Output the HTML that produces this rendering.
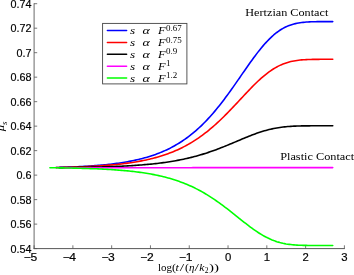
<!DOCTYPE html>
<html><head><meta charset="utf-8"><style>
html,body{margin:0;padding:0;background:#fff;}
body{width:354px;height:275px;position:relative;overflow:hidden;}
text{fill:#000;}
.t{font-family:"Liberation Sans",sans-serif;font-size:10.8px;stroke:#000;stroke-width:0.18px;}
.r{font-family:"Liberation Serif",serif;font-size:11.2px;}
.m{font-family:"Liberation Serif",serif;font-size:10.5px;font-style:italic;}
.sp{font-family:"Liberation Serif",serif;font-size:7.5px;}
.x{font-family:"Liberation Serif",serif;font-size:11px;}
.xi{font-family:"Liberation Serif",serif;font-size:11px;font-style:italic;}
.xs{font-family:"Liberation Serif",serif;font-size:8px;}
.xsi{font-family:"Liberation Serif",serif;font-size:8px;font-style:italic;}
</style></head><body>
<svg width="354" height="275" viewBox="0 0 354 275" style="position:absolute;left:0;top:0">
<g stroke="#444" stroke-width="0.9" fill="none">
<line x1="34.10" y1="3.30" x2="34.10" y2="249.05" stroke-width="0.8"/>
<line x1="33.65" y1="248.60" x2="344.85" y2="248.60"/>
</g><g stroke="#555" stroke-width="0.8" fill="none">
<line x1="34.10" y1="248.60" x2="37.20" y2="248.60"/>
<line x1="34.10" y1="224.11" x2="37.20" y2="224.11"/>
<line x1="34.10" y1="199.62" x2="37.20" y2="199.62"/>
<line x1="34.10" y1="175.13" x2="37.20" y2="175.13"/>
<line x1="34.10" y1="150.64" x2="37.20" y2="150.64"/>
<line x1="34.10" y1="126.15" x2="37.20" y2="126.15"/>
<line x1="34.10" y1="101.66" x2="37.20" y2="101.66"/>
<line x1="34.10" y1="77.17" x2="37.20" y2="77.17"/>
<line x1="34.10" y1="52.68" x2="37.20" y2="52.68"/>
<line x1="34.10" y1="28.19" x2="37.20" y2="28.19"/>
<line x1="34.10" y1="3.70" x2="37.20" y2="3.70"/>
<line x1="34.10" y1="248.60" x2="34.10" y2="245.30"/>
<line x1="72.89" y1="248.60" x2="72.89" y2="245.30"/>
<line x1="111.67" y1="248.60" x2="111.67" y2="245.30"/>
<line x1="150.46" y1="248.60" x2="150.46" y2="245.30"/>
<line x1="189.25" y1="248.60" x2="189.25" y2="245.30"/>
<line x1="228.04" y1="248.60" x2="228.04" y2="245.30"/>
<line x1="266.82" y1="248.60" x2="266.82" y2="245.30"/>
<line x1="305.61" y1="248.60" x2="305.61" y2="245.30"/>
<line x1="344.40" y1="248.60" x2="344.40" y2="245.30"/>
</g>
<polyline points="56.13,167.54 57.69,167.50 59.24,167.45 60.80,167.40 62.35,167.35 63.90,167.30 65.46,167.25 67.01,167.19 68.57,167.13 70.12,167.07 71.67,167.01 73.23,166.94 74.78,166.87 76.34,166.80 77.89,166.73 79.44,166.65 81.00,166.57 82.55,166.48 84.11,166.39 85.66,166.30 87.21,166.21 88.77,166.11 90.32,166.00 91.88,165.89 93.43,165.78 94.98,165.66 96.54,165.54 98.09,165.41 99.65,165.28 101.20,165.14 102.75,165.00 104.31,164.85 105.86,164.69 107.42,164.53 108.97,164.36 110.52,164.18 112.08,164.00 113.63,163.81 115.19,163.61 116.74,163.40 118.29,163.18 119.85,162.96 121.40,162.73 122.96,162.48 124.51,162.23 126.06,161.97 127.62,161.69 129.17,161.41 130.73,161.11 132.28,160.80 133.83,160.48 135.39,160.15 136.94,159.80 138.50,159.44 140.05,159.06 141.60,158.67 143.16,158.27 144.71,157.84 146.27,157.41 147.82,156.95 149.37,156.48 150.93,155.99 152.48,155.48 154.04,154.95 155.59,154.40 157.14,153.83 158.70,153.23 160.25,152.62 161.81,151.98 163.36,151.32 164.91,150.63 166.47,149.92 168.02,149.18 169.58,148.42 171.13,147.62 172.68,146.80 174.24,145.95 175.79,145.07 177.35,144.16 178.90,143.22 180.45,142.25 182.01,141.24 183.56,140.20 185.12,139.12 186.67,138.01 188.22,136.86 189.78,135.68 191.33,134.46 192.89,133.20 194.44,131.90 195.99,130.56 197.55,129.19 199.10,127.77 200.66,126.31 202.21,124.82 203.76,123.28 205.32,121.70 206.87,120.08 208.43,118.42 209.98,116.72 211.53,114.97 213.09,113.19 214.64,111.37 216.20,109.51 217.75,107.61 219.30,105.68 220.86,103.71 222.41,101.70 223.97,99.66 225.52,97.59 227.07,95.49 228.63,93.36 230.18,91.21 231.74,89.04 233.29,86.84 234.84,84.63 236.40,82.40 237.95,80.16 239.51,77.92 241.06,75.67 242.61,73.42 244.17,71.18 245.72,68.94 247.28,66.72 248.83,64.51 250.38,62.32 251.94,60.16 253.49,58.03 255.05,55.94 256.60,53.88 258.15,51.87 259.71,49.90 261.26,47.99 262.82,46.13 264.37,44.34 265.92,42.60 267.48,40.94 269.03,39.34 270.59,37.82 272.14,36.37 273.69,34.99 275.25,33.70 276.80,32.48 278.36,31.34 279.91,30.28 281.46,29.30 283.02,28.39 284.57,27.56 286.13,26.80 287.68,26.11 289.23,25.49 290.79,24.94 292.34,24.44 293.90,24.00 295.45,23.62 297.00,23.28 298.56,22.99 300.11,22.74 301.67,22.53 303.22,22.35 304.77,22.20 306.33,22.07 307.88,21.97 309.44,21.89 310.99,21.82 312.54,21.77 314.10,21.73 315.65,21.69 317.21,21.67 318.76,21.65 320.31,21.63 321.87,21.62 323.42,21.62 324.98,21.61 326.53,21.61 328.08,21.61 329.64,21.60 331.19,21.60 332.75,21.60" fill="none" stroke="#0000ff" stroke-width="1.6" stroke-linejoin="round" stroke-linecap="round"/>
<polyline points="56.13,167.58 57.69,167.55 59.24,167.51 60.80,167.48 62.35,167.44 63.90,167.40 65.46,167.36 67.01,167.32 68.57,167.27 70.12,167.23 71.67,167.18 73.23,167.13 74.78,167.07 76.34,167.02 77.89,166.96 79.44,166.90 81.00,166.84 82.55,166.78 84.11,166.71 85.66,166.64 87.21,166.57 88.77,166.49 90.32,166.41 91.88,166.33 93.43,166.25 94.98,166.16 96.54,166.06 98.09,165.97 99.65,165.87 101.20,165.76 102.75,165.65 104.31,165.54 105.86,165.42 107.42,165.30 108.97,165.17 110.52,165.04 112.08,164.90 113.63,164.75 115.19,164.60 116.74,164.44 118.29,164.28 119.85,164.11 121.40,163.93 122.96,163.75 124.51,163.56 126.06,163.36 127.62,163.15 129.17,162.93 130.73,162.71 132.28,162.48 133.83,162.23 135.39,161.98 136.94,161.72 138.50,161.44 140.05,161.16 141.60,160.87 143.16,160.56 144.71,160.24 146.27,159.91 147.82,159.56 149.37,159.21 150.93,158.83 152.48,158.45 154.04,158.05 155.59,157.63 157.14,157.20 158.70,156.75 160.25,156.29 161.81,155.80 163.36,155.30 164.91,154.79 166.47,154.25 168.02,153.69 169.58,153.11 171.13,152.51 172.68,151.89 174.24,151.25 175.79,150.59 177.35,149.90 178.90,149.19 180.45,148.45 182.01,147.69 183.56,146.91 185.12,146.10 186.67,145.26 188.22,144.40 189.78,143.50 191.33,142.58 192.89,141.63 194.44,140.66 195.99,139.65 197.55,138.61 199.10,137.55 200.66,136.45 202.21,135.33 203.76,134.17 205.32,132.98 206.87,131.76 208.43,130.52 209.98,129.24 211.53,127.93 213.09,126.59 214.64,125.23 216.20,123.83 217.75,122.41 219.30,120.96 220.86,119.49 222.41,117.98 223.97,116.46 225.52,114.91 227.07,113.34 228.63,111.76 230.18,110.15 231.74,108.53 233.29,106.89 234.84,105.25 236.40,103.59 237.95,101.93 239.51,100.26 241.06,98.59 242.61,96.92 244.17,95.26 245.72,93.60 247.28,91.96 248.83,90.33 250.38,88.71 251.94,87.12 253.49,85.55 255.05,84.01 256.60,82.50 258.15,81.02 259.71,79.59 261.26,78.19 262.82,76.83 264.37,75.52 265.92,74.26 267.48,73.05 269.03,71.89 270.59,70.79 272.14,69.74 273.69,68.75 275.25,67.82 276.80,66.94 278.36,66.13 279.91,65.37 281.46,64.67 283.02,64.02 284.57,63.43 286.13,62.90 287.68,62.41 289.23,61.98 290.79,61.59 292.34,61.24 293.90,60.93 295.45,60.67 297.00,60.44 298.56,60.24 300.11,60.06 301.67,59.92 303.22,59.80 304.77,59.70 306.33,59.61 307.88,59.54 309.44,59.49 310.99,59.44 312.54,59.41 314.10,59.38 315.65,59.36 317.21,59.34 318.76,59.33 320.31,59.32 321.87,59.32 323.42,59.31 324.98,59.31 326.53,59.30 328.08,59.30 329.64,59.30 331.19,59.30 332.75,59.30" fill="none" stroke="#ff0000" stroke-width="1.6" stroke-linejoin="round" stroke-linecap="round"/>
<polyline points="59.24,167.63 60.80,167.61 62.35,167.60 63.90,167.58 65.46,167.57 67.01,167.55 68.57,167.53 70.12,167.51 71.67,167.49 73.23,167.47 74.78,167.45 76.34,167.43 77.89,167.41 79.44,167.38 81.00,167.36 82.55,167.33 84.11,167.31 85.66,167.28 87.21,167.25 88.77,167.22 90.32,167.19 91.88,167.16 93.43,167.12 94.98,167.09 96.54,167.05 98.09,167.01 99.65,166.97 101.20,166.93 102.75,166.88 104.31,166.84 105.86,166.79 107.42,166.74 108.97,166.69 110.52,166.63 112.08,166.58 113.63,166.52 115.19,166.46 116.74,166.39 118.29,166.33 119.85,166.26 121.40,166.19 122.96,166.11 124.51,166.03 126.06,165.95 127.62,165.87 129.17,165.78 130.73,165.69 132.28,165.59 133.83,165.49 135.39,165.39 136.94,165.28 138.50,165.17 140.05,165.05 141.60,164.93 143.16,164.80 144.71,164.67 146.27,164.54 147.82,164.40 149.37,164.25 150.93,164.09 152.48,163.94 154.04,163.77 155.59,163.60 157.14,163.42 158.70,163.24 160.25,163.04 161.81,162.84 163.36,162.64 164.91,162.42 166.47,162.20 168.02,161.97 169.58,161.73 171.13,161.48 172.68,161.23 174.24,160.96 175.79,160.68 177.35,160.40 178.90,160.11 180.45,159.80 182.01,159.49 183.56,159.16 185.12,158.82 186.67,158.48 188.22,158.12 189.78,157.75 191.33,157.37 192.89,156.97 194.44,156.57 195.99,156.15 197.55,155.72 199.10,155.28 200.66,154.83 202.21,154.36 203.76,153.88 205.32,153.40 206.87,152.89 208.43,152.38 209.98,151.85 211.53,151.32 213.09,150.77 214.64,150.21 216.20,149.64 217.75,149.05 219.30,148.46 220.86,147.86 222.41,147.25 223.97,146.63 225.52,146.01 227.07,145.37 228.63,144.73 230.18,144.09 231.74,143.44 233.29,142.79 234.84,142.13 236.40,141.47 237.95,140.82 239.51,140.16 241.06,139.50 242.61,138.85 244.17,138.21 245.72,137.57 247.28,136.93 248.83,136.31 250.38,135.70 251.94,135.09 253.49,134.51 255.05,133.93 256.60,133.37 258.15,132.83 259.71,132.30 261.26,131.80 262.82,131.31 264.37,130.85 265.92,130.40 267.48,129.98 269.03,129.58 270.59,129.21 272.14,128.86 273.69,128.53 275.25,128.22 276.80,127.94 278.36,127.68 279.91,127.45 281.46,127.23 283.02,127.03 284.57,126.86 286.13,126.70 287.68,126.57 289.23,126.44 290.79,126.34 292.34,126.24 293.90,126.16 295.45,126.10 297.00,126.04 298.56,125.99 300.11,125.95 301.67,125.92 303.22,125.89 304.77,125.87 306.33,125.85 307.88,125.84 309.44,125.83 310.99,125.82 312.54,125.82 314.10,125.81 315.65,125.81 317.21,125.81 318.76,125.80 320.31,125.80 321.87,125.80 323.42,125.80 324.98,125.80 326.53,125.80 328.08,125.80 329.64,125.80 331.19,125.80 332.75,125.80" fill="none" stroke="#000000" stroke-width="1.6" stroke-linejoin="round" stroke-linecap="round"/>
<polyline points="63.90,167.70 65.46,167.70 67.01,167.70 68.57,167.70 70.12,167.70 71.67,167.70 73.23,167.70 74.78,167.70 76.34,167.70 77.89,167.70 79.44,167.70 81.00,167.70 82.55,167.70 84.11,167.70 85.66,167.70 87.21,167.70 88.77,167.70 90.32,167.70 91.88,167.70 93.43,167.70 94.98,167.70 96.54,167.70 98.09,167.70 99.65,167.70 101.20,167.70 102.75,167.70 104.31,167.70 105.86,167.70 107.42,167.70 108.97,167.70 110.52,167.70 112.08,167.70 113.63,167.70 115.19,167.70 116.74,167.70 118.29,167.70 119.85,167.70 121.40,167.70 122.96,167.70 124.51,167.70 126.06,167.70 127.62,167.70 129.17,167.70 130.73,167.69 132.28,167.69 133.83,167.69 135.39,167.69 136.94,167.69 138.50,167.69 140.05,167.69 141.60,167.69 143.16,167.69 144.71,167.69 146.27,167.69 147.82,167.69 149.37,167.69 150.93,167.69 152.48,167.69 154.04,167.69 155.59,167.69 157.14,167.69 158.70,167.69 160.25,167.69 161.81,167.69 163.36,167.69 164.91,167.69 166.47,167.69 168.02,167.69 169.58,167.69 171.13,167.68 172.68,167.68 174.24,167.68 175.79,167.68 177.35,167.68 178.90,167.68 180.45,167.68 182.01,167.68 183.56,167.68 185.12,167.68 186.67,167.68 188.22,167.68 189.78,167.68 191.33,167.68 192.89,167.67 194.44,167.67 195.99,167.67 197.55,167.67 199.10,167.67 200.66,167.67 202.21,167.67 203.76,167.67 205.32,167.67 206.87,167.67 208.43,167.66 209.98,167.66 211.53,167.66 213.09,167.66 214.64,167.66 216.20,167.66 217.75,167.66 219.30,167.66 220.86,167.65 222.41,167.65 223.97,167.65 225.52,167.65 227.07,167.65 228.63,167.65 230.18,167.65 231.74,167.64 233.29,167.64 234.84,167.64 236.40,167.64 237.95,167.64 239.51,167.64 241.06,167.64 242.61,167.63 244.17,167.63 245.72,167.63 247.28,167.63 248.83,167.63 250.38,167.63 251.94,167.63 253.49,167.62 255.05,167.62 256.60,167.62 258.15,167.62 259.71,167.62 261.26,167.62 262.82,167.62 264.37,167.62 265.92,167.61 267.48,167.61 269.03,167.61 270.59,167.61 272.14,167.61 273.69,167.61 275.25,167.61 276.80,167.61 278.36,167.61 279.91,167.61 281.46,167.61 283.02,167.60 284.57,167.60 286.13,167.60 287.68,167.60 289.23,167.60 290.79,167.60 292.34,167.60 293.90,167.60 295.45,167.60 297.00,167.60 298.56,167.60 300.11,167.60 301.67,167.60 303.22,167.60 304.77,167.60 306.33,167.60 307.88,167.60 309.44,167.60 310.99,167.60 312.54,167.60 314.10,167.60 315.65,167.60 317.21,167.60 318.76,167.60 320.31,167.60 321.87,167.60 323.42,167.60 324.98,167.60 326.53,167.60 328.08,167.60 329.64,167.60 331.19,167.60 332.75,167.60" fill="none" stroke="#ff00ff" stroke-width="1.6" stroke-linejoin="round" stroke-linecap="round"/>
<polyline points="49.92,167.70 51.47,167.72 53.03,167.74 54.58,167.76 56.13,167.78 57.69,167.80 59.24,167.83 60.80,167.85 62.35,167.88 63.90,167.90 65.46,167.93 67.01,167.96 68.57,167.99 70.12,168.02 71.67,168.05 73.23,168.09 74.78,168.12 76.34,168.16 77.89,168.20 79.44,168.24 81.00,168.28 82.55,168.33 84.11,168.37 85.66,168.42 87.21,168.47 88.77,168.53 90.32,168.58 91.88,168.64 93.43,168.70 94.98,168.76 96.54,168.82 98.09,168.89 99.65,168.96 101.20,169.04 102.75,169.11 104.31,169.19 105.86,169.28 107.42,169.37 108.97,169.46 110.52,169.55 112.08,169.65 113.63,169.75 115.19,169.86 116.74,169.97 118.29,170.09 119.85,170.21 121.40,170.34 122.96,170.47 124.51,170.61 126.06,170.76 127.62,170.91 129.17,171.06 130.73,171.23 132.28,171.40 133.83,171.57 135.39,171.76 136.94,171.95 138.50,172.15 140.05,172.36 141.60,172.57 143.16,172.80 144.71,173.03 146.27,173.28 147.82,173.53 149.37,173.80 150.93,174.07 152.48,174.36 154.04,174.66 155.59,174.97 157.14,175.29 158.70,175.62 160.25,175.97 161.81,176.33 163.36,176.70 164.91,177.09 166.47,177.50 168.02,177.92 169.58,178.35 171.13,178.80 172.68,179.27 174.24,179.75 175.79,180.26 177.35,180.78 178.90,181.32 180.45,181.88 182.01,182.45 183.56,183.05 185.12,183.67 186.67,184.31 188.22,184.97 189.78,185.65 191.33,186.35 192.89,187.08 194.44,187.83 195.99,188.60 197.55,189.39 199.10,190.21 200.66,191.05 202.21,191.91 203.76,192.80 205.32,193.71 206.87,194.65 208.43,195.60 209.98,196.58 211.53,197.59 213.09,198.61 214.64,199.66 216.20,200.73 217.75,201.82 219.30,202.93 220.86,204.06 222.41,205.20 223.97,206.37 225.52,207.55 227.07,208.74 228.63,209.94 230.18,211.16 231.74,212.39 233.29,213.62 234.84,214.86 236.40,216.10 237.95,217.34 239.51,218.59 241.06,219.82 242.61,221.06 244.17,222.28 245.72,223.49 247.28,224.69 248.83,225.87 250.38,227.03 251.94,228.17 253.49,229.29 255.05,230.38 256.60,231.44 258.15,232.46 259.71,233.45 261.26,234.41 262.82,235.33 264.37,236.20 265.92,237.04 267.48,237.83 269.03,238.57 270.59,239.28 272.14,239.94 273.69,240.55 275.25,241.12 276.80,241.64 278.36,242.12 279.91,242.56 281.46,242.95 283.02,243.31 284.57,243.63 286.13,243.92 287.68,244.17 289.23,244.39 290.79,244.58 292.34,244.74 293.90,244.88 295.45,245.00 297.00,245.10 298.56,245.18 300.11,245.25 301.67,245.31 303.22,245.35 304.77,245.39 306.33,245.42 307.88,245.44 309.44,245.45 310.99,245.47 312.54,245.48 314.10,245.48 315.65,245.49 317.21,245.49 318.76,245.50 320.31,245.50 321.87,245.50 323.42,245.50 324.98,245.50 326.53,245.50 328.08,245.50 329.64,245.50 331.19,245.50 332.75,245.50" fill="none" stroke="#00ff00" stroke-width="1.6" stroke-linejoin="round" stroke-linecap="round"/>
<rect x="102.6" y="23.4" width="84.3" height="60.5" fill="#fff" stroke="#444" stroke-width="0.9"/>
<line x1="107.4" y1="30.5" x2="126.6" y2="30.5" stroke="#0000ff" stroke-width="1.5" stroke-linecap="round"/>
<line x1="107.4" y1="42.5" x2="126.6" y2="42.5" stroke="#ff0000" stroke-width="1.5" stroke-linecap="round"/>
<line x1="107.4" y1="54.3" x2="126.6" y2="54.3" stroke="#000000" stroke-width="1.5" stroke-linecap="round"/>
<line x1="107.4" y1="66.3" x2="126.6" y2="66.3" stroke="#ff00ff" stroke-width="1.5" stroke-linecap="round"/>
<line x1="107.4" y1="78.1" x2="126.6" y2="78.1" stroke="#00ff00" stroke-width="1.5" stroke-linecap="round"/>
<g style="filter:grayscale(1)">
<text transform="translate(129.90,34.00) scale(1.250,1.000)" class="m" >s</text>
<text transform="translate(142.60,34.00) scale(1.320,1.000)" class="m" >α</text>
<text transform="translate(158.00,34.20) scale(1.120,1.000)" class="xi" >F</text>
<text transform="translate(166.00,30.50) scale(1.200,1.000)" class="sp" >0.67</text>
<text transform="translate(129.90,46.00) scale(1.250,1.000)" class="m" >s</text>
<text transform="translate(142.60,46.00) scale(1.320,1.000)" class="m" >α</text>
<text transform="translate(158.00,46.20) scale(1.120,1.000)" class="xi" >F</text>
<text transform="translate(166.00,42.50) scale(1.200,1.000)" class="sp" >0.75</text>
<text transform="translate(129.90,57.80) scale(1.250,1.000)" class="m" >s</text>
<text transform="translate(142.60,57.80) scale(1.320,1.000)" class="m" >α</text>
<text transform="translate(158.00,58.00) scale(1.120,1.000)" class="xi" >F</text>
<text transform="translate(166.00,54.30) scale(1.200,1.000)" class="sp" >0.9</text>
<text transform="translate(129.90,69.80) scale(1.250,1.000)" class="m" >s</text>
<text transform="translate(142.60,69.80) scale(1.320,1.000)" class="m" >α</text>
<text transform="translate(158.00,70.00) scale(1.120,1.000)" class="xi" >F</text>
<text transform="translate(166.00,66.30) scale(1.200,1.000)" class="sp" >1</text>
<text transform="translate(129.90,81.60) scale(1.250,1.000)" class="m" >s</text>
<text transform="translate(142.60,81.60) scale(1.320,1.000)" class="m" >α</text>
<text transform="translate(158.00,81.80) scale(1.120,1.000)" class="xi" >F</text>
<text transform="translate(166.00,78.10) scale(1.200,1.000)" class="sp" >1.2</text>
<text transform="translate(31.60,252.60) scale(1.000,1.000)" class="t" text-anchor="end">0.54</text>
<text transform="translate(31.60,228.11) scale(1.000,1.000)" class="t" text-anchor="end">0.56</text>
<text transform="translate(31.60,203.62) scale(1.000,1.000)" class="t" text-anchor="end">0.58</text>
<text transform="translate(31.60,179.13) scale(1.000,1.000)" class="t" text-anchor="end">0.6</text>
<text transform="translate(31.60,154.64) scale(1.000,1.000)" class="t" text-anchor="end">0.62</text>
<text transform="translate(31.60,130.15) scale(1.000,1.000)" class="t" text-anchor="end">0.64</text>
<text transform="translate(31.60,105.66) scale(1.000,1.000)" class="t" text-anchor="end">0.66</text>
<text transform="translate(31.60,81.17) scale(1.000,1.000)" class="t" text-anchor="end">0.68</text>
<text transform="translate(31.60,56.68) scale(1.000,1.000)" class="t" text-anchor="end">0.7</text>
<text transform="translate(31.60,32.19) scale(1.000,1.000)" class="t" text-anchor="end">0.72</text>
<text transform="translate(31.60,7.70) scale(1.000,1.000)" class="t" text-anchor="end">0.74</text>
<text transform="translate(33.90,260.80) scale(1.120,1.040)" class="t" text-anchor="middle">5</text>
<text transform="translate(27.40,260.70) scale(1.120,1.000)" class="t" text-anchor="middle">−</text>
<text transform="translate(72.69,260.80) scale(1.120,1.040)" class="t" text-anchor="middle">4</text>
<text transform="translate(66.19,260.70) scale(1.120,1.000)" class="t" text-anchor="middle">−</text>
<text transform="translate(111.47,260.80) scale(1.120,1.040)" class="t" text-anchor="middle">3</text>
<text transform="translate(104.97,260.70) scale(1.120,1.000)" class="t" text-anchor="middle">−</text>
<text transform="translate(150.26,260.80) scale(1.120,1.040)" class="t" text-anchor="middle">2</text>
<text transform="translate(143.76,260.70) scale(1.120,1.000)" class="t" text-anchor="middle">−</text>
<text transform="translate(189.05,260.80) scale(1.120,1.040)" class="t" text-anchor="middle">1</text>
<text transform="translate(182.55,260.70) scale(1.120,1.000)" class="t" text-anchor="middle">−</text>
<text transform="translate(228.04,260.70) scale(1.050,1.040)" class="t" text-anchor="middle">0</text>
<text transform="translate(266.82,260.70) scale(1.050,1.040)" class="t" text-anchor="middle">1</text>
<text transform="translate(305.61,260.70) scale(1.050,1.040)" class="t" text-anchor="middle">2</text>
<text transform="translate(344.40,260.70) scale(1.050,1.040)" class="t" text-anchor="middle">3</text>
<text x="245.3" y="16.4" class="r" textLength="83.0" lengthAdjust="spacingAndGlyphs">Hertzian Contact</text>
<text x="280.2" y="159.8" class="r" textLength="74" lengthAdjust="spacingAndGlyphs">Plastic Contact</text>
<text transform="translate(158.00,270.80) scale(1.000,1.000)" class="x" >log</text>
<text transform="translate(171.90,270.80) scale(1.100,1.000)" class="x" >(</text>
<text transform="translate(175.60,270.80) scale(1.100,1.000)" class="xi" >t</text>
<text transform="translate(179.80,270.80) scale(1.450,1.000)" class="x" >/</text>
<text transform="translate(185.00,270.80) scale(1.100,1.000)" class="x" >(</text>
<text transform="translate(189.00,270.80) scale(1.000,1.000)" class="xi" >η</text>
<text transform="translate(194.60,270.80) scale(1.450,1.000)" class="x" >/</text>
<text transform="translate(199.30,270.80) scale(1.050,1.000)" class="xi" >k</text>
<text transform="translate(204.80,272.60) scale(0.950,1.000)" class="xs" >2</text>
<text transform="translate(208.90,270.80) scale(1.360,1.000)" class="x" >))</text>
<text transform="translate(4.00,131.20) rotate(-90) scale(1.150,1.000)" class="xi" >μ</text>
<text transform="translate(7.10,124.90) rotate(-90) scale(1.100,1.000)" class="xsi" >s</text>
</g>
</svg>
</body></html>
